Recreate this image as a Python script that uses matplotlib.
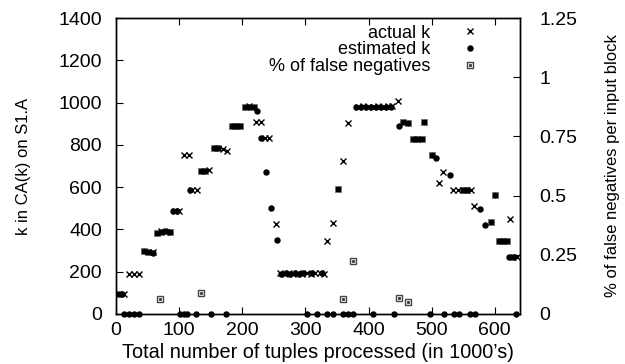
import matplotlib
matplotlib.use("Agg")
import matplotlib.pyplot as plt
from matplotlib.legend_handler import HandlerTuple

plt.rcParams['font.family'] = ['Liberation Sans', 'DejaVu Sans']

# actual k per input block (x in 1000's of tuples)
actual_x = [5, 13, 21, 29, 37, 44, 51, 58, 65, 72, 79, 86, 93, 100, 107, 115,
            121, 128, 134, 141, 148, 155, 162, 169, 176, 183, 190, 197, 204,
            211, 218, 222, 230, 236, 243, 254, 260, 267, 274, 281, 288, 295,
            302, 309, 316, 323, 330, 335, 343, 351, 359, 367, 383, 391, 399,
            407, 415, 423, 431, 438, 446, 455, 462, 470, 477, 484, 488, 500,
            512, 518, 534, 542, 549, 556, 563, 567, 594, 600, 606, 613, 620,
            624, 629, 636]
actual_k = [95, 95, 188, 190, 190, 300, 292, 292, 385, 392, 390, 388, 487, 487,
            750, 750, 587, 587, 678, 678, 680, 784, 784, 780, 772, 889, 889,
            889, 980, 985, 978, 907, 907, 832, 832, 426, 192, 190, 194, 190,
            192, 188, 194, 190, 195, 192, 190, 347, 429, 590, 725, 902, 980,
            982, 978, 980, 983, 978, 982, 985, 1007, 910, 902, 828, 828, 828,
            910, 752, 618, 673, 587, 587, 587, 587, 587, 511, 437, 563, 345,
            345, 345, 448, 271, 271]

# estimated k
est_x = [4, 9, 13, 21, 29, 37, 44, 51, 58, 65, 72, 79, 86, 90, 96, 101, 107,
         113, 117, 126, 134, 141, 150, 155, 162, 174, 183, 190, 197, 204, 211,
         218, 224, 229, 238, 246, 255, 262, 269, 276, 283, 290, 297, 303, 311,
         319, 327, 335, 343, 351, 359, 367, 375, 380, 388, 396, 404, 407, 412,
         420, 428, 436, 440, 448, 455, 462, 470, 477, 484, 488, 497, 500, 507,
         520, 529, 536, 544, 549, 556, 560, 568, 576, 584, 594, 600, 606, 613,
         620, 622, 629, 633]
est_k = [95, 95, 0, 0, 0, 0, 300, 292, 290, 385, 390, 392, 388, 487, 487, 0,
         0, 0, 587, 0, 678, 678, 0, 784, 784, 0, 889, 889, 889, 978, 978, 978,
         962, 832, 670, 500, 350, 190, 192, 190, 192, 190, 192, 0, 194, 0, 192,
         0, 0, 590, 0, 0, 0, 980, 980, 980, 980, 0, 980, 980, 980, 980, 0, 889,
         910, 902, 828, 828, 828, 910, 0, 752, 740, 0, 657, 0, 0, 587, 587, 0,
         0, 497, 421, 437, 563, 345, 345, 345, 271, 271, 0]

# % of false negatives per input block
fn_x = [70, 135, 359, 375, 448, 463]
fn_pct = [0.0625, 0.09, 0.063, 0.225, 0.068, 0.049]

fig = plt.figure(figsize=(6.25, 3.64), dpi=100)
ax = fig.add_axes([0.1856, 0.1374, 0.6464, 0.8131])
ax2 = ax.twinx()

h1, = ax.plot(actual_x, actual_k, linestyle='none', marker='x', color='black',
              markersize=4, markeredgewidth=1.0, clip_on=False)
h2, = ax.plot(est_x, est_k, linestyle='none', marker='o', color='black',
              markersize=3.6, clip_on=False)
h3, = ax2.plot(fn_x, fn_pct, linestyle='none', marker='s', markerfacecolor='none',
               markeredgecolor='#444444', markersize=5, markeredgewidth=1.0)
h3b, = ax2.plot(fn_x, fn_pct, linestyle='none', marker='s', color='#444444',
                markersize=1.2)

ax.set_xlim(0, 640)
ax.set_ylim(0, 1400)
ax2.set_ylim(0, 1.25)
ax.set_xticks(range(0, 700, 100))
ax.set_yticks(range(0, 1600, 200))
ax2.set_yticks([0, 0.25, 0.5, 0.75, 1, 1.25])
ax2.set_yticklabels(['0', '0.25', '0.5', '0.75', '1', '1.25'])

ax.tick_params(axis='x', direction='in', top=True, length=5, labelsize=14, pad=6)
ax.tick_params(axis='y', direction='in', right=False, length=5, labelsize=14, pad=10)
ax2.tick_params(axis='y', direction='in', length=5, labelsize=14, pad=14)
for a in (ax, ax2):
    for s in a.spines.values():
        s.set_linewidth(1.0)

ax.set_xlabel("Total number of tuples processed (in 1000\u2019s)", fontsize=14.3, labelpad=3)
ax.set_ylabel("k in CA(k) on S1.A", fontsize=12)
ax.yaxis.set_label_coords(-0.21, 0.5)
ax2.set_ylabel("% of false negatives per input block", fontsize=12, rotation=90)
ax2.yaxis.set_label_coords(1.21, 0.5)

leg = ax.legend([h1, h2, (h3, h3b)], ['actual k', 'estimated k', '% of false negatives'],
                handler_map={tuple: HandlerTuple(ndivide=1, pad=0)},
                loc='upper right', bbox_to_anchor=(0.935, 1.02), frameon=False,
                markerfirst=False, fontsize=13, handlelength=1.2,
                handletextpad=1.6, labelspacing=-0.02, borderaxespad=0.3)
for t in leg.get_texts():
    t.set_ha('right')

fig.savefig('out.png', dpi=100)
